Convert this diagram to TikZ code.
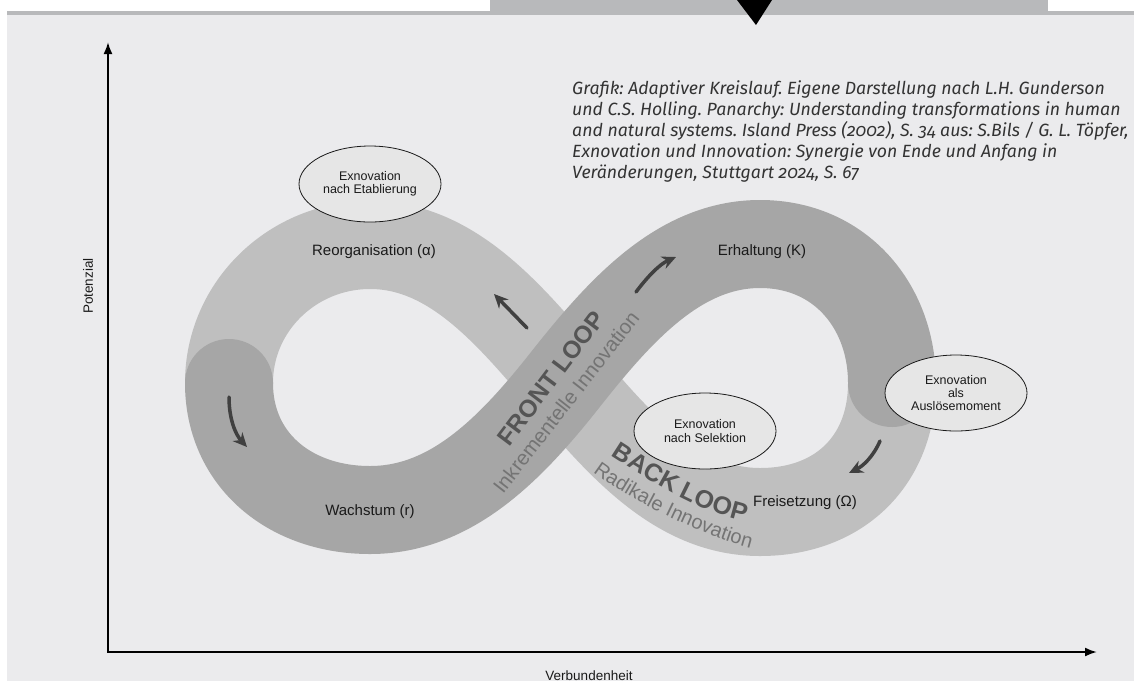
\documentclass[tikz,border=0pt]{standalone}
\usepackage{fontspec}
\setmainfont{Liberation Sans}
\newfontfamily\citefont{Fira Sans}[Numbers=OldStyle]
\usetikzlibrary{arrows.meta,shapes.geometric,decorations.text}
\definecolor{paper}{HTML}{EBEBED}
\definecolor{bar}{HTML}{B8B9BB}
\definecolor{backband}{HTML}{BFBFBF}
\definecolor{frontband}{HTML}{A6A6A6}
\definecolor{bubble}{HTML}{E6E6E6}
\definecolor{ink}{HTML}{1A1A1A}
\definecolor{citeink}{HTML}{333333}
\definecolor{flowink}{HTML}{404040}
\definecolor{loopink}{HTML}{555555}
\definecolor{subink}{HTML}{747474}
\frenchspacing
\tikzset{
  band/.style={line width=88pt, line cap=round},
  axis/.style={draw=black, line width=2pt, {Latex[length=12pt,width=9pt]}-{Latex[length=12pt,width=9pt]}},
  flow/.style={draw=flowink, line width=3.5pt, line cap=round, -{Stealth[length=14pt,width=13pt]}},
  exo/.style={ellipse, draw=ink, line width=0.8pt, fill=bubble, minimum width=142pt, minimum height=76pt, inner sep=0pt, align=center, text=ink, font=\fontsize{12.5}{13.3}\selectfont},
  lab/.style={text=ink, font=\fontsize{15}{18}\selectfont},
  axlab/.style={text=ink, font=\fontsize{13.5}{15}\selectfont},
  cite/.style={text=citeink, align=left, inner sep=0pt, font=\citefont\itshape\fontsize{17.7}{21}\selectfont},
}
\begin{document}
\begin{tikzpicture}[x=1pt,y=-1pt]
  \useasboundingbox (0,0) rectangle (1134,681);
  % page frame
  \fill[white] (0,0) rectangle (1134,681);
  \fill[paper] (7,15) rectangle (1134,681);
  \fill[bar] (7,11) rectangle (1134,15);
  \fill[bar] (490,0) rectangle (1048,15);
  \fill[black] (737,0) -- (772,0) -- (756,25) -- cycle;

  % axes
  \coordinate (origin) at (108,652);
  \coordinate (ytip) at (108,42);
  \coordinate (xtip) at (1097,652);
  \draw[axis] (ytip) -- (origin) -- (xtip);
  \node[axlab,rotate=90] (pot) at (88,286) {Potenzial};
  \node[axlab] (verb) at (589,676) {Verbundenheit};

  % figure eight
  \coordinate (L) at (229,383);
  \coordinate (R) at (892,383);
  \coordinate (X) at (565,380);
  \coordinate (Ltop) at (370,245);
  \coordinate (Lbot) at (370,510);
  \coordinate (Rtop) at (760,244);
  \coordinate (Rbot) at (760,512);
  \draw[band,draw=backband] (L) .. controls (229,306) and (293,245) .. (Ltop)
    .. controls (450,245) and (507,311) .. (X)
    .. controls (623,449) and (680,512) .. (Rbot)
    .. controls (840,512) and (892,460) .. (R);
  \draw[band,draw=frontband] (L) .. controls (229,460) and (290,510) .. (Lbot)
    .. controls (450,510) and (509,451) .. (X)
    .. controls (621,309) and (680,244) .. (Rtop)
    .. controls (840,244) and (892,306) .. (R);

  % phases
  \node[lab] (reorg) at (374,252) {Reorganisation (α)};
  \node[lab] (wachs) at (370,512) {Wachstum (r)};
  \node[lab] (erh) at (762,252) {Erhaltung (K)};
  \node[lab] (frei) at (805,503) {Freisetzung (Ω)};

  % direction arrows
  \coordinate (fa1) at (229,397);
  \coordinate (fa2) at (247,447);
  \coordinate (fb1) at (527,328);
  \coordinate (fb2) at (494,294);
  \coordinate (fc1) at (636,292);
  \coordinate (fc2) at (676,257);
  \coordinate (fd1) at (880,441);
  \coordinate (fd2) at (849,473);
  \draw[flow] (fa1) .. controls (229,420) and (236,435) .. (fa2);
  \draw[flow] (fb1) -- (fb2);
  \draw[flow] (fc1) .. controls (648,276) and (660,264) .. (fc2);
  \draw[flow] (fd1) .. controls (873,457) and (863,466) .. (fd2);

  % loop names
  \node[rotate=53,text=loopink,font=\fontsize{24.5}{24.5}\selectfont\bfseries] (front) at (551,378) {FRONT LOOP};
  \node[rotate=52,text=subink,font=\fontsize{20.5}{20.5}\selectfont] (inkr) at (566,402) {Inkrementelle Innovation};
  \path[decorate,decoration={text along path,text color=loopink,text align=center,
    text={|\fontsize{25}{25}\selectfont\bfseries|BACK LOOP}}]
    (610,455) .. controls (650,481) and (698,511) .. (746,522);
  \path[decorate,decoration={text along path,text color=subink,text align=center,
    text={|\fontsize{20}{20}\selectfont|Radikale Innovation}}]
    (590,470) .. controls (630,501) and (705,537) .. (754,549);

  % exnovation points
  \node[exo] (etab) at (370,184) {Exnovation\\nach Etablierung};
  \node[exo] (selek) at (705,431) {Exnovation\\nach Selektion};
  \node[exo] (ausl) at (956,393) {Exnovation\\als\\Auslösemoment};

  % source
  \node[cite,anchor=north west] (quelle) at (572,80) {Grafik: Adaptiver Kreislauf. Eigene Darstellung nach L.H. Gunderson\\
    und C.S. Holling. Panarchy: Understanding transformations in human\\
    and natural systems. Island Press (2002), S. 34 aus: S.Bils / G. L. Töpfer,\\
    Exnovation und Innovation: Synergie von Ende und Anfang in\\
    Veränderungen, Stuttgart 2024, S. 67};
\end{tikzpicture}
\end{document}
